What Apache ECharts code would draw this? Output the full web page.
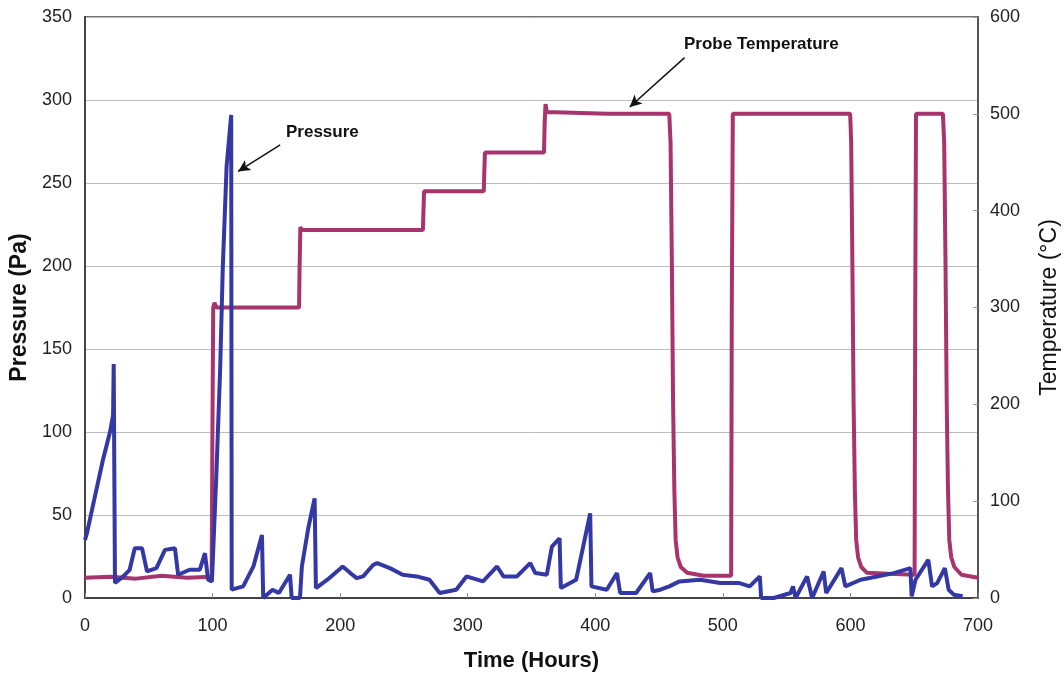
<!DOCTYPE html>
<html>
<head>
<meta charset="utf-8">
<title>Pressure and Probe Temperature</title>
<script src="https://cdn.jsdelivr.net/npm/echarts@6/dist/echarts.min.js"></script>
<style>
    html, body { margin: 0; padding: 0; background: #fff; }
    #main-chart { width: 1064px; height: 675px; }
</style>
</head>
<body>
<div id="main-chart"></div>
<script>
// ------------------------------------------------------------------------
// Data
// ------------------------------------------------------------------------
var pressureHours = [
    0, 1.5, 8, 14, 19.6, 22, 22.5, 23, 23.5, 24,
    30, 35, 39, 44.7, 48.6, 56, 62.7, 70.5, 73, 82,
    90, 94, 96.5, 99.5, 100, 103, 106, 108, 111, 114.6,
    115, 116, 124, 132, 138.7, 139.7, 147, 152, 160.7, 162,
    168.5, 170, 175, 180, 181, 190, 202, 208, 213, 218,
    226, 229, 239, 249, 260, 270, 278, 291, 299, 312,
    323, 328, 338.6, 349, 353, 362, 366, 372, 373, 385,
    396, 397, 409, 417, 419.5, 432, 443, 445, 451, 458,
    466, 482, 498, 513, 521, 529, 530, 540, 553, 555,
    557, 566, 570, 579, 581, 593, 596, 608, 621, 634,
    647, 648, 651, 661, 664, 668, 674, 677, 681, 688
];
var pressureValues = [
    35, 39, 62, 83, 100, 110, 141, 140, 9, 9,
    13, 17, 30, 30, 16, 18, 29, 30, 14, 17,
    17, 27, 11, 10, 11, 75, 139, 199, 260, 291,
    5, 5, 7, 19, 38, 0, 5, 3, 14, 0,
    0, 19, 42, 60, 6, 11, 19, 15, 12, 13,
    20, 21, 18, 14, 13, 11, 3, 5, 13, 10,
    19, 13, 13, 21, 15, 14, 31, 36, 6, 11,
    51, 7, 5, 15, 3, 3, 15, 4, 5, 7,
    10, 11, 9, 9, 7, 13, 0, 0, 3, 7,
    0, 13, 0, 16, 3, 18, 7, 11, 13, 15,
    18, 1, 11, 23, 7, 9, 18, 5, 2, 1
];

var tempHours = [
    0, 20, 40, 60, 80, 99.3, 99.8, 100.5, 101.5, 103,
    140, 167.8, 168.2, 168.8, 170, 230, 264.9, 265.3, 265.8, 290,
    312.6, 313, 313.5, 340, 359.8, 360.3, 361, 362, 363, 410,
    458, 459, 460, 461, 462, 463, 464.5, 467, 472, 485,
    506.5, 507, 507.8, 550, 599.8, 600.6, 601.5, 602.5, 603.5, 604.5,
    606, 608.5, 613, 630, 650.3, 650.8, 651.4, 660, 672.5, 673.5,
    674.5, 675.5, 676.5, 677.5, 679, 681.5, 687, 700
];
var tempValues = [
    21, 22, 20, 23, 21, 22, 150, 300, 305, 300,
    300, 300, 340, 383, 380, 380, 380, 400, 420, 420,
    420, 440, 460, 460, 460, 490, 510, 502, 500, 500,
    500, 470, 350, 200, 110, 60, 42, 32, 26, 23,
    23, 300, 500, 500, 500, 470, 350, 200, 110, 60,
    42, 32, 26, 25, 24, 300, 500, 500, 500, 470,
    350, 200, 110, 60, 42, 32, 24, 21
];

// annotation arrows: [hour, value] start -> end
var pressureArrow = [[153, 273], [120, 257]];
var tempArrow = [[470, 558], [427, 507]];

function zip(xs, ys) {
    return xs.map(function (x, i) { return [x, ys[i]]; });
}

var FONT = '"Liberation Sans", Arial, sans-serif';
var BLUE = '#3438a4';
var MAGENTA = '#a8346e';

function arrowLine(pts) {
    return {
        silent: true,
        symbol: ['none', 'arrow'],
        symbolSize: [9, 12],
        label: { show: false },
        lineStyle: { color: '#111', width: 1.5, type: 'solid' },
        data: [[{ coord: pts[0] }, { coord: pts[1] }]]
    };
}

// ------------------------------------------------------------------------
// Chart
// ------------------------------------------------------------------------
var myChart = echarts.init(document.getElementById('main-chart'));

var option = {
    animation: false,
    grid: {
        left: 85, right: 86, top: 17, bottom: 77,
        outerBoundsMode: 'none', containLabel: false,
        show: true, borderColor: '#444', borderWidth: 1.5
    },
    xAxis: {
        type: 'value', min: 0, max: 700, interval: 100,
        name: 'Time (Hours)', nameLocation: 'middle', nameGap: 52,
        nameTextStyle: { fontFamily: FONT, fontSize: 22, fontWeight: 'bold', color: '#111' },
        axisLine: { lineStyle: { color: '#444', width: 2 } },
        axisTick: { inside: true, length: 5, lineStyle: { color: '#888' } },
        axisLabel: { fontFamily: FONT, fontSize: 18, color: '#222', margin: 19 },
        splitLine: { show: false }
    },
    yAxis: [{
        type: 'value', min: 0, max: 350, interval: 50,
        name: 'Pressure (Pa)', nameLocation: 'middle', nameGap: 53, nameRotate: 90,
        nameTextStyle: { fontFamily: FONT, fontSize: 23, fontWeight: 'bold', color: '#111' },
        axisLine: { show: true, lineStyle: { color: '#444', width: 2 } },
        axisTick: { show: false },
        axisLabel: { fontFamily: FONT, fontSize: 18, color: '#222', margin: 13 },
        splitLine: { lineStyle: { color: '#bdbdbd', width: 1 } }
    }, {
        type: 'value', min: 0, max: 600, interval: 100, position: 'right',
        name: 'Temperature (°C)', nameLocation: 'middle', nameGap: 60, nameRotate: 90,
        nameTextStyle: { fontFamily: FONT, fontSize: 23, color: '#111' },
        axisLine: { show: true, lineStyle: { color: '#555', width: 2 } },
        axisTick: { show: true, inside: true, length: 5, lineStyle: { color: '#999' } },
        axisLabel: { fontFamily: FONT, fontSize: 18, color: '#222', margin: 12 },
        splitLine: { show: false }
    }],
    series: [{
        name: 'Probe Temperature',
        type: 'line',
        yAxisIndex: 1,
        data: zip(tempHours, tempValues),
        showSymbol: false,
        lineStyle: { color: MAGENTA, width: 4 },
        itemStyle: { color: MAGENTA },
        markLine: arrowLine(tempArrow),
        z: 2
    }, {
        name: 'Pressure',
        type: 'line',
        yAxisIndex: 0,
        data: zip(pressureHours, pressureValues),
        showSymbol: false,
        lineStyle: { color: BLUE, width: 4 },
        itemStyle: { color: BLUE },
        markLine: arrowLine(pressureArrow),
        z: 3
    }],
    graphic: [{
        type: 'text', left: 286, top: 124,
        style: { text: 'Pressure', font: 'bold 17px ' + FONT, fill: '#111' }
    }, {
        type: 'text', left: 684, top: 36,
        style: { text: 'Probe Temperature', font: 'bold 17px ' + FONT, fill: '#111' }
    }]
};
myChart.setOption(option);
</script>
</body>
</html>
